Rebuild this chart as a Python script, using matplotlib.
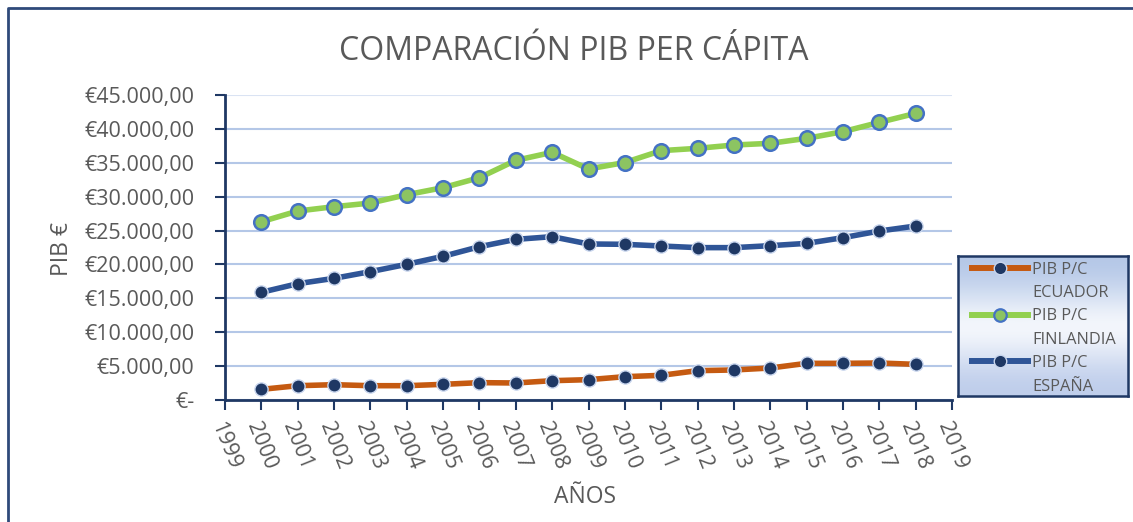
import numpy as np
import matplotlib.pyplot as plt
from matplotlib.lines import Line2D
from matplotlib.ticker import FuncFormatter

plt.rcParams['font.family'] = ['Open Sans', 'DejaVu Sans']

years = list(range(2000, 2019))
ecuador = [1570, 2110, 2260, 2110, 2110, 2310, 2560, 2510, 2850, 3000,
           3440, 3640, 4330, 4430, 4720, 5410, 5410, 5460, 5260]
finlandia = [26300, 27880, 28520, 29060, 30290, 31330, 32800, 35360, 36540, 34080,
             35040, 36790, 37130, 37620, 37870, 38600, 39590, 40960, 42290]
espana = [15890, 17160, 17950, 18940, 20020, 21200, 22620, 23700, 24100, 23020,
          22970, 22720, 22480, 22480, 22770, 23110, 23950, 24930, 25670]
series_names = ['ECUADOR', 'FINLANDIA', 'ESPAÑA']

txt = '#595959'
navy = '#1F3864'

fig = plt.figure(figsize=(11.33, 5.22), dpi=100)
ax = fig.add_axes([225 / 1133, 1 - 400 / 522, (952 - 225) / 1133, (400 - 95) / 522])

ax.plot(years, ecuador, color='#C55A11', lw=4, marker='o', ms=9.5,
        mfc=navy, mec='#C9D6EE', mew=1, zorder=3)
ax.plot(years, finlandia, color='#92D050', lw=4, marker='o', ms=10.5,
        mfc='#8CC462', mec='#4472C4', mew=1.8, zorder=3)
ax.plot(years, espana, color='#2F5597', lw=4, marker='o', ms=9.5,
        mfc=navy, mec='#C9D6EE', mew=1, zorder=3)

ax.set_xlim(1999, 2019)
ax.set_ylim(0, 45000)
ax.set_xticks(range(1999, 2020))
ax.set_yticks(range(0, 45001, 5000))


def euro(v, pos):
    if v == 0:
        return '€-'
    return '€' + f'{v:,.2f}'.replace(',', 'X').replace('.', ',').replace('X', '.')


ax.yaxis.set_major_formatter(FuncFormatter(euro))
ax.tick_params(axis='y', labelsize=15.5, colors=navy, labelcolor=txt,
               direction='out', length=7, width=1.5, pad=15)
ax.tick_params(axis='x', labelsize=15.5, colors=navy, labelcolor=txt,
               direction='out', length=7, width=1.5, labelrotation=-68, pad=7)

ax.grid(axis='y', color='#B4C7E7', lw=1.5, zorder=0)
ax.get_ygridlines()[-1].set_color('#DAE3F3')
for s in ['top', 'right']:
    ax.spines[s].set_visible(False)
for s in ['left', 'bottom']:
    ax.spines[s].set_color(navy)
    ax.spines[s].set_linewidth(2)

fig.text(574 / 1133, 1 - 52 / 522, 'COMPARACIÓN PIB PER CÁPITA', ha='center', va='center',
         fontsize=23, color=txt)
fig.text(62 / 1133, 1 - 249 / 522, 'PIB €', rotation=90, ha='center', va='center',
         fontsize=16.5, color=txt)
fig.text(585 / 1133, 1 - 497 / 522, 'AÑOS', ha='center', va='center',
         fontsize=16.5, color=txt)

# legend box with vertical gradient
lax = fig.add_axes([958 / 1133, 1 - 396 / 522, 170 / 1133, 140 / 522])
grad = np.array([[180, 199, 231], [214, 225, 243], [255, 255, 255],
                 [222, 230, 245], [190, 205, 235]]) / 255
lax.imshow(grad[:, None, :], aspect='auto', extent=(0, 1, 0, 1), interpolation='bicubic')
lax.set_xticks([])
lax.set_yticks([])
for s in lax.spines.values():
    s.set_color(navy)
    s.set_linewidth(1.8)

blank = Line2D([], [], alpha=0)
handles = [
    Line2D([], [], color='#C55A11', lw=4.3, marker='o', ms=9, mfc=navy, mec='#C9D6EE'),
    blank,
    Line2D([], [], color='#92D050', lw=4.3, marker='o', ms=9, mfc='#8CC462', mec='#4472C4', mew=1.6),
    blank,
    Line2D([], [], color='#2F5597', lw=4.3, marker='o', ms=9, mfc=navy, mec='#C9D6EE'),
    blank,
]
labels = []
for name in series_names:
    labels += ['PIB P/C', name]
leg = lax.legend(handles, labels, loc='upper left', bbox_to_anchor=(0.05, 1.0),
                 fontsize=11.8, labelcolor=txt, frameon=False,
                 handlelength=3.4, handletextpad=0.25, labelspacing=0.45,
                 borderpad=0.15, borderaxespad=0.2)

# outer chart border (top and left edges visible)
fig.add_artist(Line2D([8 / 1133, 8 / 1133, 1], [0, 1 - 8 / 522, 1 - 8 / 522],
                      transform=fig.transFigure, color='#2F4A7A', lw=2))

fig.savefig('out.png', dpi=100)
